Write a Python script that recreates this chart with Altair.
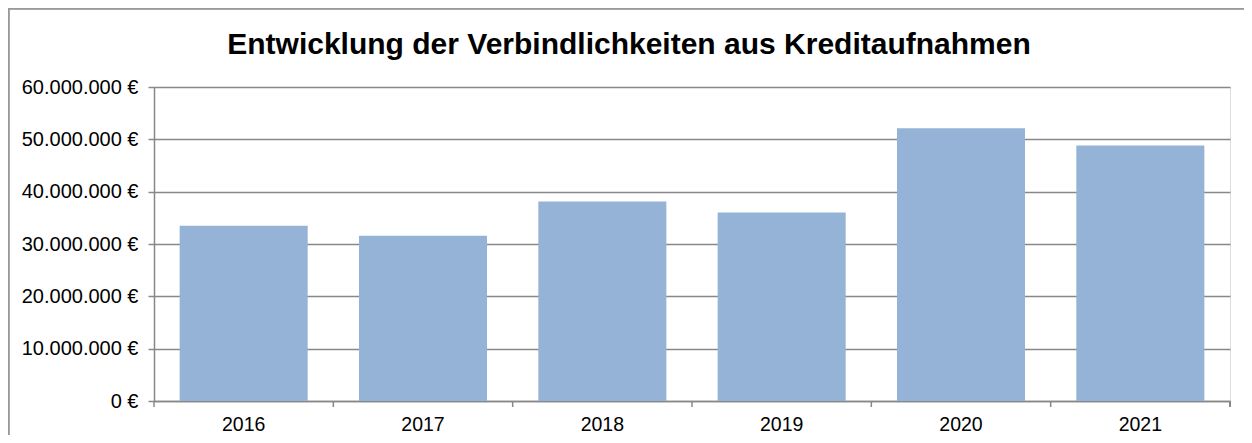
import altair as alt
import pandas as pd

title_text = "Entwicklung der Verbindlichkeiten aus Kreditaufnahmen"
years = ["2016", "2017", "2018", "2019", "2020", "2021"]
values = [33500000, 31600000, 38100000, 36000000, 52100000, 48800000]
y_ticks = [0, 10000000, 20000000, 30000000, 40000000, 50000000, 60000000]

df = pd.DataFrame({"year": years, "value": values})

W, H = 1076, 314
FONT = "Liberation Sans"
GRAY = "#888888"

xscale = alt.Scale(domain=years, paddingInner=0, paddingOuter=0)
yscale = alt.Scale(domain=[0, 60000000], nice=False)

xaxis = alt.Axis(title=None, ticks=False, domain=True, domainColor=GRAY,
                 domainWidth=1.5, labelAngle=0, labelFont=FONT,
                 labelFontSize=19.5, labelColor="#000000", labelPadding=14,
                 grid=False)

base = alt.Chart(df)

bars = base.mark_bar(color="#95B3D7", width=alt.RelativeBandSize(0.714)).encode(
    x=alt.X("year:N", scale=xscale, sort=None, axis=xaxis),
    y=alt.Y("value:Q", scale=yscale,
            axis=alt.Axis(title=None, values=y_ticks, format="$,.0f",
                          labelFont=FONT, labelFontSize=20, labelColor="#000000",
                          labelPadding=10, tickSize=6, tickColor=GRAY, tickWidth=1.5,
                          domainColor=GRAY, domainWidth=1.5, grid=True,
                          gridColor=GRAY, gridWidth=1.5)),
)

ticks = base.mark_rule(color=GRAY, strokeWidth=1.5).encode(
    x=alt.X("year:N", scale=xscale, sort=None, bandPosition=0, axis=xaxis),
    y=alt.value(H),
    y2=alt.value(H + 6),
)

end_tick = base.mark_rule(color=GRAY, strokeWidth=1.5).encode(
    x=alt.value(W), y=alt.value(H), y2=alt.value(H + 6)
)

frame = base.mark_rect(fill=None, stroke="#999999", strokeWidth=1.5, clip=False).encode(
    x=alt.value(-145.5), x2=alt.value(W + 200),
    y=alt.value(-78.5), y2=alt.value(H + 200),
)

title = alt.Chart(pd.DataFrame({"t": [title_text]})).mark_text(
    font=FONT, fontSize=30, fontWeight="bold", color="#000000",
    align="center", baseline="alphabetic"
).encode(text="t:N", x=alt.value(475), y=alt.value(-33.5))

chart = alt.layer(frame, bars, ticks, end_tick, title).properties(
    width=W, height=H,
    autosize=alt.AutoSizeParams(type="none"),
    padding={"left": 146, "top": 79, "right": 14, "bottom": 34},
).configure_view(stroke=None).configure(
    locale={"number": {"decimal": ",", "thousands": ".", "grouping": [3],
                       "currency": ["", " €"]}}
)

chart.save("out.html", embed_options={"renderer": "svg", "actions": False})
